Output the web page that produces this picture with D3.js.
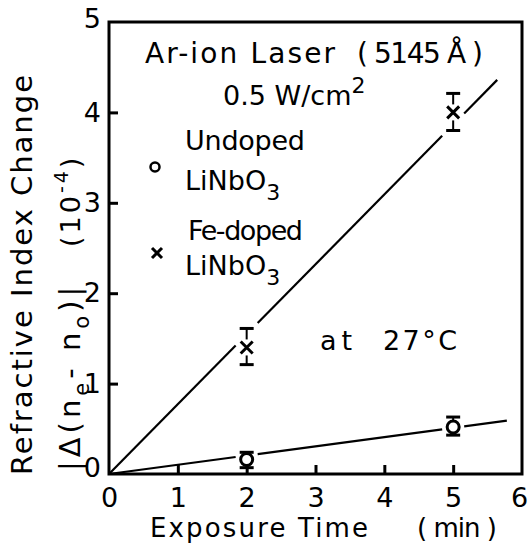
<!DOCTYPE html>
<html>
<head>
<meta charset="utf-8" />
<script src="https://d3js.org/d3.v7.min.js"></script>
<style>
    body { margin: 0; background: #fff; }
    svg text { font-family: "DejaVu Sans", sans-serif; fill: #000; }
    .frame { fill: none; stroke: #000; stroke-width: 3px; }
    .axis path { display: none; }
    .axis line { stroke: #000; stroke-width: 3px; }
    .axis text { font-size: 27px; font-family: "DejaVu Sans", sans-serif; }
</style>
</head>
<body>
<svg id="chart" width="529" height="553"></svg>
<script>
// exposure time (min) and index change (x 1e-4)
var feTime = [2, 5];
var feValue = [1.4, 4.0];
var feLow = [1.21, 3.8];
var feHigh = [1.61, 4.21];

var unTime = [2, 5];
var unValue = [0.16, 0.52];
var unLow = [0.07, 0.43];
var unHigh = [0.24, 0.63];

// fitted straight lines: [x0, y0, x1, y1]
var feFit = [0, 0, 5.64, 4.36];
var unFit = [0, 0, 5.78, 0.59];

var xTicks = [0, 1, 2, 3, 4, 5, 6];
var yTicks = [0, 1, 2, 3, 4, 5];

var svg = d3.select("#chart");

var x = d3.scaleLinear().domain([0, 6]).range([109, 522]);
var y = d3.scaleLinear().domain([0, 5]).range([474, 22]);

// ticks and labels
var xAxis = svg.append("g")
    .attr("class", "axis")
    .attr("transform", "translate(0," + y(0) + ")")
    .call(d3.axisBottom(x).tickValues(xTicks).tickSize(-9).tickPadding(14).tickFormat(d3.format("d")));
xAxis.selectAll("line").filter(function(d) { return d === 0 || d === 6; }).remove();
xAxis.selectAll("text").filter(function(d) { return d === 6; }).attr("dx", -3);

var yAxis = svg.append("g")
    .attr("class", "axis")
    .attr("transform", "translate(" + x(0) + ",0)")
    .call(d3.axisLeft(y).tickValues(yTicks).tickSize(-9).tickPadding(8).tickFormat(d3.format("d")));
yAxis.selectAll("line").filter(function(d) { return d === 0 || d === 5; }).remove();
yAxis.selectAll("text").filter(function(d) { return d === 0; }).attr("dy", "0.1em");
yAxis.selectAll("text").filter(function(d) { return d === 5; }).attr("dy", "0.2em");

svg.append("rect")
    .attr("class", "frame")
    .attr("x", x(0)).attr("y", y(5))
    .attr("width", x(6) - x(0)).attr("height", y(0) - y(5));

// fit lines with small gaps at the data points
function drawFit(fit, times) {
    var slope = (fit[3] - fit[1]) / (fit[2] - fit[0]);
    var gap = 0.16;
    var cuts = [fit[0]];
    times.forEach(function(t) { cuts.push(t - gap, t + gap); });
    cuts.push(fit[2]);
    for (var i = 0; i < cuts.length; i += 2) {
        svg.append("line")
            .attr("x1", x(cuts[i])).attr("y1", y(fit[1] + slope * (cuts[i] - fit[0])))
            .attr("x2", x(cuts[i + 1])).attr("y2", y(fit[1] + slope * (cuts[i + 1] - fit[0])))
            .attr("stroke", "#000").attr("stroke-width", 2.2);
    }
}
drawFit(feFit, feTime);
drawFit(unFit, unTime);

function errorBars(times, low, high) {
    times.forEach(function(t, i) {
        var g = svg.append("g");
        g.append("line")
            .attr("x1", x(t)).attr("x2", x(t))
            .attr("y1", y(low[i])).attr("y2", y(high[i]))
            .attr("stroke", "#000").attr("stroke-width", 2);
        [low[i], high[i]].forEach(function(v) {
            g.append("line")
                .attr("x1", x(t) - 7).attr("x2", x(t) + 7)
                .attr("y1", y(v)).attr("y2", y(v))
                .attr("stroke", "#000").attr("stroke-width", 3);
        });
    });
}
errorBars(feTime, feLow, feHigh);
errorBars(unTime, unLow, unHigh);

function crossAt(cx, cy, s) {
    svg.append("path")
        .attr("d", "M" + (cx - s) + "," + (cy - s) + "L" + (cx + s) + "," + (cy + s) +
                   "M" + (cx + s) + "," + (cy - s) + "L" + (cx - s) + "," + (cy + s))
        .attr("stroke", "#000").attr("stroke-width", 3).attr("fill", "none");
}

feTime.forEach(function(t, i) {
    svg.append("rect").attr("x", x(t) - 7).attr("y", y(feValue[i]) - 8)
        .attr("width", 14).attr("height", 16).attr("fill", "#fff");
    crossAt(x(t), y(feValue[i]), 6);
});

svg.selectAll(".un-pt").data(unTime).enter().append("circle")
    .attr("class", "un-pt")
    .attr("cx", function(d) { return x(d); })
    .attr("cy", function(d, i) { return y(unValue[i]); })
    .attr("r", 6)
    .attr("fill", "#fff").attr("stroke", "#000").attr("stroke-width", 3);

// annotations
function label(txt, px, py, size, len) {
    var t = svg.append("text").attr("x", px).attr("y", py)
        .attr("font-size", size).text(txt);
    if (len) t.attr("textLength", len).attr("lengthAdjust", "spacing");
    return t;
}

label("Ar-ion Laser", 145, 63, 28, 190);
label("( 5145 Å )", 357, 63, 28, 126);

var w = svg.append("text").attr("x", 223).attr("y", 105).attr("font-size", 27);
w.append("tspan").text("0.5 W/cm");
w.append("tspan").attr("font-size", 22).attr("dy", -12).text("2");

svg.append("circle").attr("cx", 155).attr("cy", 167).attr("r", 4.5)
    .attr("fill", "none").attr("stroke", "#000").attr("stroke-width", 2.5);
label("Undoped", 185, 150, 27, 120);
var l1 = svg.append("text").attr("x", 185).attr("y", 190).attr("font-size", 27);
l1.append("tspan").text("LiNbO");
l1.append("tspan").attr("font-size", 22).attr("dy", 10).text("3");

crossAt(157, 253, 5);
label("Fe-doped", 188, 240, 27, 115);
var l2 = svg.append("text").attr("x", 185).attr("y", 275).attr("font-size", 27);
l2.append("tspan").text("LiNbO");
l2.append("tspan").attr("font-size", 22).attr("dy", 10).text("3");

label("at", 320, 350, 27, 32);
label("27°C", 383, 350, 27, 74);

// axis titles
label("Exposure Time", 150, 537, 26, 218);
label("( min )", 417, 537, 26, 80);

svg.append("text")
    .attr("transform", "translate(32,475) rotate(-90)")
    .attr("font-size", 29)
    .attr("textLength", 400).attr("lengthAdjust", "spacing")
    .text("Refractive Index Change");

var t2 = svg.append("text")
    .attr("transform", "translate(80,471) rotate(-90)")
    .attr("font-size", 29)
    .style("letter-spacing", "4px");
t2.append("tspan").text("|Δ(n");
t2.append("tspan").attr("font-size", 21).attr("dy", 9).text("e");
t2.append("tspan").attr("dy", -9).text("- n");
t2.append("tspan").attr("font-size", 21).attr("dy", 9).text("o");
t2.append("tspan").attr("dy", -9).text(")|");

var t3 = svg.append("text")
    .attr("transform", "translate(80,247) rotate(-90)")
    .attr("font-size", 27)
    .style("letter-spacing", "3px");
t3.append("tspan").text("(10");
t3.append("tspan").attr("font-size", 19).attr("dy", -12).text("-4");
t3.append("tspan").attr("dy", 12).text(")");
</script>
</body>
</html>
